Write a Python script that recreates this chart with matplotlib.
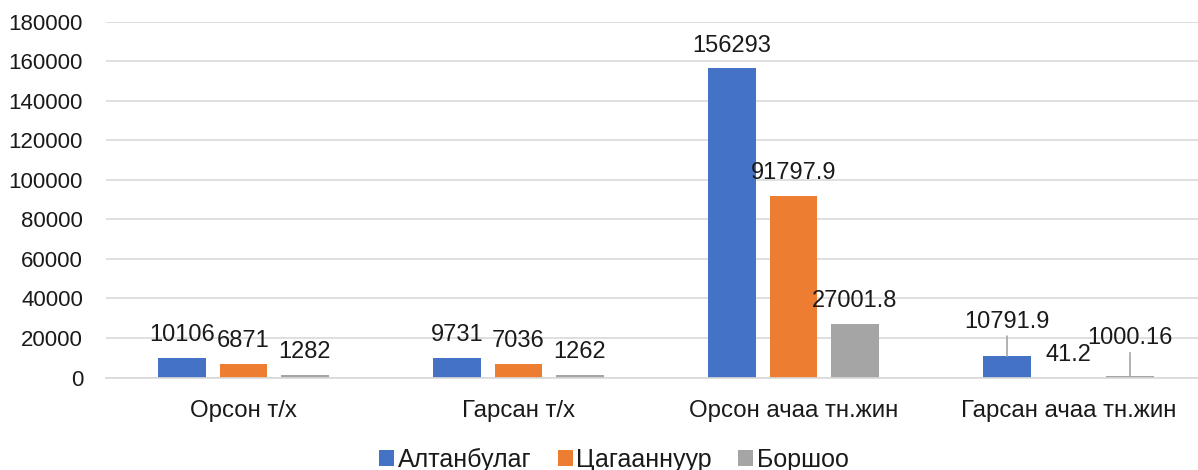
import matplotlib
matplotlib.use("Agg")
import matplotlib.pyplot as plt
from matplotlib.patches import Patch
import numpy as np

categories = ["Орсон т/х", "Гарсан т/х", "Орсон ачаа тн.жин", "Гарсан ачаа тн.жин"]
series_names = ["Алтанбулаг", "Цагааннуур", "Боршоо"]
altanbulag = [10106, 9731, 156293, 10791.9]
tsagaannuur = [6871, 7036, 91797.9, 41.2]
borshoo = [1282, 1262, 27001.8, 1000.16]
label_texts = [
    ["10106", "9731", "156293", "10791.9"],
    ["6871", "7036", "91797.9", "41.2"],
    ["1282", "1262", "27001.8", "1000.16"],
]
yticks = [0, 20000, 40000, 60000, 80000, 100000, 120000, 140000, 160000, 180000]

colors = ["#4472C4", "#ED7D31", "#A5A5A5"]
plt.rcParams["font.family"] = ["Liberation Sans", "DejaVu Sans"]

fig = plt.figure(figsize=(11.98, 4.70), dpi=100)
ax = fig.add_axes([106 / 1198, 92.4 / 470, 1 - 106 / 1198, (377.6 - 21.6) / 470])

x = np.arange(len(categories))
pitch = 0.2236
width = 0.1745
data = [altanbulag, tsagaannuur, borshoo]
# crowded labels lifted with leader lines (offsets in points)
special = {(0, 3): 20.5, (2, 3): 22.5}
for si, vals in enumerate(data):
    xs = x + (si - 1) * pitch
    ax.bar(xs, vals, width=width, color=colors[si], zorder=3)
    for ci, (xv, v) in enumerate(zip(xs, vals)):
        off = special.get((si, ci), 12.2)
        ax.annotate(label_texts[si][ci], xy=(xv, v), xytext=(0, off),
                    textcoords="offset points", ha="center", va="baseline",
                    fontsize=17, color="#1a1a1a", zorder=5)
        if (si, ci) in special:
            ax.annotate("", xy=(xv, v), xytext=(0, off - 6), textcoords="offset points",
                        arrowprops=dict(arrowstyle="-", color="#A5A5A5", lw=1.2,
                                        shrinkA=0, shrinkB=0), zorder=4)

ax.set_xlim(-0.5, (1198 - 243.5) / 275)
ax.set_ylim(0, 180000)
ax.set_yticks(yticks)
ax.set_yticklabels([str(t) for t in yticks], fontsize=16, color="#1a1a1a")
ax.set_xticks(x)
ax.set_xticklabels(categories, fontsize=17.3, color="#1a1a1a")
ax.tick_params(axis="both", length=0)
ax.tick_params(axis="y", pad=16.5)
ax.tick_params(axis="x", pad=16)
ax.yaxis.grid(True, color="#D9D9D9", lw=1.2, zorder=0)
for s in ["top", "right", "left"]:
    ax.spines[s].set_visible(False)
ax.spines["bottom"].set_color("#D9D9D9")
ax.spines["bottom"].set_linewidth(1.2)
ax.spines["bottom"].set_zorder(4)

handles = [Patch(facecolor=c, edgecolor="none") for c in colors]
fig.legend(handles, series_names, loc="center", bbox_to_anchor=(614 / 1198, 1 - 460 / 470),
           ncol=3, frameon=False, fontsize=18, handlelength=0.6, handleheight=0.6,
           handletextpad=0.15, columnspacing=1.05, labelcolor="#1a1a1a")

fig.savefig("out.png", dpi=100)
